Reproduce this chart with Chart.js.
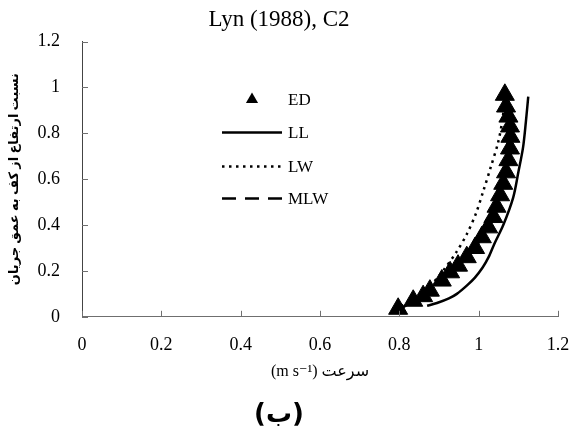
<!DOCTYPE html>
<html>
<head>
<meta charset="utf-8">
<script src="https://cdn.jsdelivr.net/npm/chart.js@4.4.1/dist/chart.umd.min.js"></script>
<style>
  html, body { margin: 0; padding: 0; background: #fff; }
  canvas { display: block; }
</style>
</head>
<body>
<canvas id="chart" width="572" height="435"></canvas>
<script>
/* Lyn (1988), C2 — velocity profile (scatter + model curves) */

// ED: measured points (velocity m/s, relative height z/h)
const edVel = [0.797, 0.835, 0.86, 0.877, 0.907, 0.928, 0.948, 0.970, 0.991, 1.008, 1.024, 1.037,
               1.045, 1.054, 1.062, 1.069, 1.075, 1.079, 1.080, 1.079, 1.075, 1.069, 1.066];
const edZ   = [0.035, 0.07, 0.09, 0.114, 0.158, 0.194, 0.223, 0.26, 0.30, 0.347, 0.39, 0.435,
               0.48, 0.53, 0.58, 0.63, 0.683, 0.734, 0.785, 0.83, 0.873, 0.917, 0.968];

// LL: log law
const llVel = [0.87, 0.895, 0.925, 0.945, 0.97, 0.99, 1.01, 1.025, 1.04, 1.062, 1.087, 1.10, 1.112, 1.119, 1.125];
const llZ   = [0.048, 0.06, 0.08, 0.10, 0.136, 0.17, 0.215, 0.26, 0.32, 0.40, 0.52, 0.63, 0.74, 0.85, 0.96];

// LW: log-wake law
const lwVel = [0.79, 0.835, 0.875, 0.91, 0.943, 0.97, 0.993, 1.012, 1.03, 1.049, 1.06, 1.066];
const lwZ   = [0.03, 0.08, 0.13, 0.20, 0.28, 0.36, 0.45, 0.55, 0.65, 0.76, 0.86, 0.96];

// MLW: modified log-wake law (mostly hidden under the ED markers)
const mlwVel = [0.80, 0.86, 0.93, 0.99, 1.025, 1.048, 1.062, 1.07, 1.074, 1.072, 1.07];
const mlwZ   = [0.03, 0.10, 0.20, 0.30, 0.40, 0.50, 0.60, 0.70, 0.80, 0.90, 0.96];

const xTickLabels = ['0', '0.2', '0.4', '0.6', '0.8', '1', '1.2'];
const yTickLabels = ['0', '0.2', '0.4', '0.6', '0.8', '1', '1.2'];

const serif = "'Liberation Serif', 'DejaVu Sans', serif";

const toPts = (xs, ys) => xs.map((x, i) => ({ x: x, y: ys[i] }));

// short tick marks pointing into the plot
const innerTicks = {
  id: 'innerTicks',
  afterDraw(chart) {
    const { ctx, chartArea, scales } = chart;
    ctx.save();
    ctx.strokeStyle = '#6f6f6f';
    ctx.lineWidth = 1;
    ctx.beginPath();
    scales.x.ticks.forEach(t => {
      const px = Math.round(scales.x.getPixelForValue(t.value)) + 0.5;
      ctx.moveTo(px, chartArea.bottom);
      ctx.lineTo(px, chartArea.bottom - 6);
    });
    scales.y.ticks.forEach(t => {
      const py = Math.round(scales.y.getPixelForValue(t.value)) + 0.5;
      ctx.moveTo(chartArea.left, py);
      ctx.lineTo(chartArea.left + 6, py);
    });
    ctx.stroke();
    ctx.restore();
  }
};

// legend sitting inside the plot area
const innerLegend = {
  id: 'innerLegend',
  afterDraw(chart) {
    const { ctx, chartArea } = chart;
    const x0 = chartArea.left + 140, x1 = chartArea.left + 200, tx = chartArea.left + 206;
    const rows = [chartArea.top + 58, chartArea.top + 91, chartArea.top + 125, chartArea.top + 157];
    ctx.save();
    ctx.fillStyle = '#000';
    ctx.strokeStyle = '#000';
    ctx.font = '17px ' + serif;
    ctx.textBaseline = 'middle';
    ctx.textAlign = 'left';
    chart.data.datasets.forEach((ds, i) => {
      const y = rows[i];
      if (i === 0) {
        const cx = (x0 + x1) / 2, r = 7;
        ctx.beginPath();
        ctx.moveTo(cx, y - r);
        ctx.lineTo(cx + r * 0.87, y + r * 0.5);
        ctx.lineTo(cx - r * 0.87, y + r * 0.5);
        ctx.closePath();
        ctx.fill();
      } else {
        ctx.lineWidth = ds.borderWidth;
        ctx.setLineDash(ds.borderDash || []);
        ctx.beginPath();
        ctx.moveTo(x0, y);
        ctx.lineTo(x1, y);
        ctx.stroke();
        ctx.setLineDash([]);
      }
      ctx.fillText(ds.label, tx, y + 1);
    });
    ctx.restore();
  }
};

new Chart(document.getElementById('chart'), {
  type: 'scatter',
  data: {
    datasets: [
      {
        label: 'ED',
        data: toPts(edVel, edZ),
        pointStyle: 'triangle',
        pointRadius: 11,
        backgroundColor: '#000',
        borderColor: '#000',
        borderWidth: 1,
        showLine: false
      },
      {
        label: 'LL',
        data: toPts(llVel, llZ),
        showLine: true,
        borderColor: '#000',
        borderWidth: 2.5,
        pointRadius: 0,
        tension: 0.3
      },
      {
        label: 'LW',
        data: toPts(lwVel, lwZ),
        showLine: true,
        borderColor: '#000',
        borderWidth: 2.5,
        borderDash: [2.5, 4.5],
        pointRadius: 0,
        tension: 0.3
      },
      {
        label: 'MLW',
        data: toPts(mlwVel, mlwZ),
        showLine: true,
        borderColor: '#000',
        borderWidth: 2.5,
        borderDash: [14, 9],
        pointRadius: 0,
        tension: 0.3
      }
    ]
  },
  options: {
    responsive: false,
    animation: false,
    layout: { padding: { left: 0, right: 14, top: 0, bottom: 0 } },
    plugins: {
      legend: { display: false },
      tooltip: { enabled: false },
      title: {
        display: true,
        text: 'Lyn (1988), C2',
        color: '#000',
        font: { family: serif, size: 23, weight: 'normal' },
        padding: { top: 6, bottom: 8 }
      },
      subtitle: {
        display: true,
        position: 'bottom',
        text: '(ب)',
        color: '#000',
        font: { family: "'DejaVu Sans', sans-serif", size: 26, weight: 'bold' },
        padding: { top: 0, bottom: 4 }
      }
    },
    scales: {
      x: {
        type: 'linear',
        min: 0, max: 1.2,
        grid: { display: false },
        border: { display: true, color: '#6f6f6f', width: 1 },
        ticks: {
          stepSize: 0.2,
          color: '#000',
          padding: 10,
          font: { family: serif, size: 18 },
          callback: (v, i) => xTickLabels[i]
        },
        title: {
          display: true,
          text: '(m s⁻¹) سرعت',
          color: '#000',
          font: { family: serif, size: 16 },
          padding: { top: 0, bottom: 18 }
        },
        afterFit: s => { s.height = 83; s.paddingLeft = 0; s.paddingRight = 0; }
      },
      y: {
        type: 'linear',
        min: 0, max: 1.2,
        grid: { display: false },
        border: { display: true, color: '#444', width: 1 },
        ticks: {
          stepSize: 0.2,
          color: '#000',
          padding: 14,
          font: { family: serif, size: 18 },
          callback: (v, i) => yTickLabels[i]
        },
        title: {
          display: true,
          text: 'نسبت ارتفاع از کف به عمق جریان',
          color: '#000',
          font: { family: serif, size: 13, weight: 'bold' },
          padding: { top: 7, bottom: 0 }
        },
        afterFit: s => { s.width = 82; }
      }
    }
  },
  plugins: [innerTicks, innerLegend]
});
</script>
</body>
</html>
